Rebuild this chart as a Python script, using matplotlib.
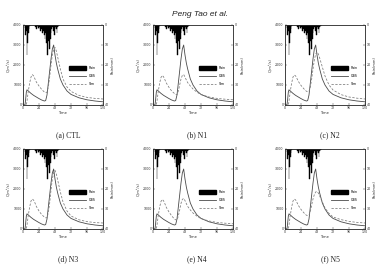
import matplotlib
matplotlib.use("Agg")
import matplotlib.pyplot as plt
from matplotlib.patches import Patch
from matplotlib.lines import Line2D

# ---------------- data ----------------
time_h = [0, 3, 4, 5, 6, 8, 10, 12, 14, 16, 18, 20, 24, 28, 32, 34, 36, 38, 40,
          42, 44, 46, 48, 50, 52, 56, 60, 66, 72, 84, 96, 108, 120]

obs_q = [0, 0, 300, 650, 760, 700, 640, 580, 530, 480, 440, 400, 320, 250, 200,
         220, 500, 1100, 1700, 2300, 2800, 3000, 2500, 2100, 1800, 1300, 1000,
         700, 530, 360, 260, 200, 160]

sim_ctl = [0, 0, 0, 0, 200, 700, 1100, 1400, 1520, 1450, 1300, 1150, 950, 780,
           650, 620, 640, 900, 1400, 2000, 2500, 2800, 2880, 2700, 2400, 1800,
           1300, 900, 680, 480, 380, 330, 300]
sim_n1 = [0, 0, 0, 0, 200, 700, 1100, 1380, 1480, 1400, 1250, 1100, 880, 700,
          580, 530, 520, 700, 1000, 1300, 1480, 1520, 1400, 1250, 1120, 950,
          800, 640, 520, 400, 330, 290, 260]
sim_n2 = [0, 0, 0, 0, 200, 700, 1100, 1400, 1500, 1450, 1320, 1180, 980, 820,
          690, 660, 680, 900, 1300, 1800, 2250, 2550, 2650, 2550, 2350, 1900,
          1450, 1000, 750, 520, 400, 340, 300]
sim_n3 = [0, 0, 0, 0, 200, 700, 1100, 1400, 1500, 1440, 1300, 1130, 900, 720,
          600, 560, 560, 820, 1300, 1950, 2500, 2820, 2930, 2750, 2450, 1850,
          1350, 900, 650, 460, 370, 320, 300]
sim_n4 = [0, 0, 0, 0, 200, 700, 1100, 1380, 1480, 1400, 1250, 1080, 850, 660,
          500, 460, 450, 650, 950, 1280, 1480, 1530, 1420, 1270, 1130, 950,
          800, 640, 520, 400, 330, 290, 260]
sim_n5 = [0, 0, 0, 0, 200, 700, 1100, 1400, 1500, 1450, 1320, 1180, 980, 820,
          690, 670, 690, 880, 1200, 1500, 1720, 1850, 1880, 1800, 1650, 1350,
          1050, 780, 600, 470, 380, 330, 300]

rain_t = list(range(0, 56))
rain_mm = [0, 0, 0, 1.5, 5, 3, 15, 9, 4, 2, 0.5, 0, 0, 0, 0, 0, 0, 0, 0, 1,
           2, 1, 0.5, 1.5, 2, 1, 3, 1.5, 2, 4, 2.5, 3, 5, 7, 4, 9, 6, 15, 8, 5,
           12, 7, 4, 2, 1, 0.5, 3, 5, 2, 1, 2, 4, 1, 0.5, 0, 0]

panel_names = ["(a) CTL", "(b) N1", "(c) N2", "(d) N3", "(e) N4", "(f) N5"]
sims = [sim_ctl, sim_n1, sim_n2, sim_n3, sim_n4, sim_n5]

x_ticks = [0, 24, 48, 72, 96, 120]
q_ticks = [0, 1000, 2000, 3000, 4000]
r_ticks = [0, 10, 20, 30, 40]

# ---------------- figure ----------------
W, H = 379, 265
fig = plt.figure(figsize=(W / 100, H / 100), dpi=100)

lefts = [23, 153, 285]
tops = [25, 149]
aw, ah = 80, 80
tick_fs = 2.3

fig.text(200 / W, 1 - 15 / H, "Peng Tao et al.", ha="center", va="center",
         fontsize=6, style="italic", family="Liberation Sans", color="#222222")

for i, (name, sim) in enumerate(zip(panel_names, sims)):
    r, c = divmod(i, 3)
    l, t = lefts[c], tops[r]
    ax = fig.add_axes([l / W, 1 - (t + ah) / H, aw / W, ah / H])
    ax.plot(time_h, obs_q, color="#4a4a4a", lw=0.6, ls="-", label="OBS")
    ax.plot(time_h, sim, color="#7a7a7a", lw=0.55, ls=(0, (3, 2)), label="Sim")
    ax.set_xlim(0, 120)
    ax.set_ylim(0, 4000)
    ax.set_xticks(x_ticks)
    ax.set_yticks(q_ticks)
    ax.tick_params(labelsize=tick_fs, length=1.2, width=0.3, pad=1,
                   direction="in", colors="#333333")
    ax.set_xlabel("Time", fontsize=tick_fs + 0.3, labelpad=0.8, color="#333333")
    ax.set_ylabel("Q(m\u00b3/s)", fontsize=tick_fs + 0.3, labelpad=1, color="#333333")
    for s in ax.spines.values():
        s.set_linewidth(0.5)
        s.set_color("#333333")

    ax2 = ax.twinx()
    ax2.bar(rain_t, rain_mm, width=1.0, color="black", edgecolor="black",
            linewidth=0.3, align="center")
    ax2.set_ylim(40, 0)
    ax2.set_yticks(r_ticks)
    ax2.set_xlim(0, 120)
    ax2.tick_params(labelsize=tick_fs, length=1.2, width=0.3, pad=1,
                    direction="in", colors="#333333")
    ax2.set_ylabel("Rain(mm)", fontsize=tick_fs + 0.3, labelpad=1.5,
                   color="#333333", rotation=90)
    for s in ax2.spines.values():
        s.set_linewidth(0.5)
        s.set_color("#333333")

    handles = [Patch(facecolor="black", edgecolor="black"),
               Line2D([], [], color="#4a4a4a", lw=0.6),
               Line2D([], [], color="#7a7a7a", lw=0.55, ls=(0, (3, 2)))]
    ax2.legend(handles, ["Rain", "OBS", "Sim"], loc="center left",
               bbox_to_anchor=(0.55, 0.36), frameon=False,
               fontsize=tick_fs, handlelength=5.6, handleheight=1.4,
               labelspacing=1.3, handletextpad=0.6, borderpad=0)

    cy = 135 if r == 0 else 259
    cx = [68, 197, 330][c]
    fig.text(cx / W, 1 - cy / H, name, ha="center", va="center",
             fontsize=5.5, family="Liberation Serif", color="#222222")

fig.savefig("out.png", dpi=100)
